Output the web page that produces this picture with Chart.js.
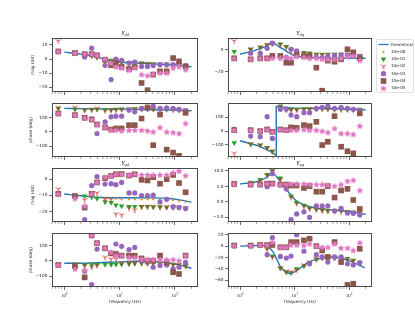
<!DOCTYPE html>
<html>
<head>
<meta charset="utf-8">
<script src="https://cdn.jsdelivr.net/npm/chart.js@4.4.1/dist/chart.umd.min.js"></script>
<style>
html, body { margin: 0; padding: 0; background: #fff; }
#wrap { position: relative; width: 415px; height: 324px; }
#wrap canvas { position: absolute; left: 0; top: 0; }
</style>
</head>
<body>
<div id="wrap"></div>
<script>
// measured frequencies (Hz), shared by every marker series
const freq = [0.78, 1.56, 2.34, 3.13, 3.91, 5.47, 7.03, 8.59, 10.9, 14.8, 18.8, 25.0, 32.0, 40.6, 53.9, 71.1, 93.0, 118.8, 156.3];
const seriesNames = ['theoretical', '10e-00', '10e-01', '10e-02', '10e-03', '10e-04', '10e-05'];
const xMajor = [1, 10, 100];
const xMinor = [0.6, 0.7, 0.8, 0.9, 2, 3, 4, 5, 6, 7, 8, 9, 20, 30, 40, 50, 60, 70, 80, 90, 200];

// Y_dd magnitude (dB)
const ddMagTheoryF = [1, 2, 3, 4, 5, 6, 8, 10, 20, 50, 100, 200];
const ddMagTheory = [4.9, 3.5, 2.4, 1.4, 0.2, -1.0, -1.9, -2.3, -2.8, -3.6, -4.4, -5.4];
const ddMag00 = [5.4, 3.8, 2.6, 1.6, 1.0, -0.8, -1.6, -2.0, -2.4, -2.8, -3.0, -3.0, -3.2, -3.4, -3.6, -3.8, -4.2, -4.4, -4.8];
const ddMag01 = [5.4, 4.5, 2.8, 2.3, 1.4, -1.0, -0.9, -1.6, -2.3, -2.8, -2.8, -2.8, -3.3, -3.4, -3.7, -3.8, -4.2, -4.4, -4.7];
const ddMag02 = [12.9, 4.8, 3.0, 2.6, 1.2, -0.6, -1.2, -1.8, -2.5, -3.0, -3.0, -3.0, -3.4, -3.5, -3.8, -4.0, -4.3, -4.5, -4.9];
const ddMag03 = [5.4, 4.2, 1.4, 7.7, 2.6, -4.4, -14.5, 0.0, -0.9, -2.8, -2.1, -5.2, -5.2, -4.6, -4.0, -4.0, -4.0, -3.7, -4.7];
const ddMag04 = [5.4, 4.2, 3.5, 3.5, 2.6, -0.5, -4.4, -2.8, -5.6, -7.0, -5.6, -16.9, -22.0, -11.0, -8.7, -8.7, 0.7, -1.6, -5.2];
const ddMag05 = [5.4, 4.2, 3.5, 3.5, 2.6, 0.0, -2.8, -5.6, -6.3, -8.0, -6.3, -11.0, -11.7, -10.5, -9.8, -9.8, -6.3, -5.2, -7.5];

// Y_dd phase (deg)
const ddPhTheoryF = [1, 3, 10, 30, 100, 200];
const ddPhTheory = [165, 162, 160, 157, 152, 148];
const ddPh00 = [165, 160, 158, 160, 160, 158, 158, 158, 160, 160, 160, 160, 160, 160, 158, 158, 156, 155, 152];
const ddPh01 = [165, 158, 155, 158, 158, 155, 155, 158, 160, 160, 162, 162, 163, 160, 160, 160, 158, 155, 153];
const ddPh02 = [170, 172, 153, 155, 165, 150, 152, 155, 158, 158, 160, 160, 162, 160, 158, 158, 155, 153, 150];
const ddPh03 = [129, 118, 99, 92, -12, 70, 106, 110, 110, 153, 141, 165, 165, 181, 165, 169, 165, 158, 150];
const ddPh04 = [129, 118, 99, 87, 52, 31, 16, 24, 24, 47, 47, 94, 172, -94, 122, -125, -146, -169, 134];
const ddPh05 = [129, 118, 99, 87, 52, 31, 12, 12, 7, 12, 12, 12, 7, 0, 31, 0, -5, -12, 59];

// Y_dq magnitude (dB)
const dqMagTheoryF = [1, 2, 3, 3.9, 5, 6.5, 8, 10, 15, 30, 100, 200];
const dqMagTheory = [-4.0, 0.0, 3.5, 6.6, 3.5, 0.0, -2.8, -5.2, -6.6, -7.3, -7.6, -7.7];
const dqMag00 = [-1.5, 0.5, 2.5, 4.6, 6.5, 5.5, 3.0, 0.0, -2.8, -3.0, -3.5, -4.2, -4.2, -4.2, -4.2, -4.2, -4.2, -4.5, -5.3];
const dqMag01 = [-1.5, 0.6, 2.5, 4.6, 6.2, 5.5, 3.1, 0.6, -3.0, -2.5, -3.0, -4.0, -4.0, -4.0, -4.0, -4.0, -4.0, -4.2, -5.2];
const dqMag02 = [8.3, 1.0, 2.8, 4.6, 5.5, 5.0, 2.5, -1.0, -3.5, -3.0, -3.5, -4.3, -4.5, -4.5, -4.3, -4.6, -4.5, -4.8, -5.5];
const dqMag03 = [-7.7, -3.0, -3.0, 1.5, 6.2, -6.2, -6.8, 0.6, -0.9, -6.0, -6.5, -6.5, -7.0, -6.0, -5.5, -4.6, -5.0, -5.5, -6.0];
const dqMag04 = [-7.7, -8.6, -7.7, -7.7, -5.5, -5.5, -11.7, -11.7, -4.6, -5.5, -5.5, -16.3, -37.5, -9.8, -10.8, -8.6, 0.6, -2.2, -7.7];
const dqMag05 = [-7.7, -8.6, -7.7, -7.7, -7.7, -7.7, -6.8, -7.7, -6.2, -6.8, -7.7, -7.7, -8.6, -8.6, -8.6, -7.7, -6.2, -5.5, -9.8];

// Y_dq phase (deg)
const dqPhTheoryF = [1, 2, 3, 4, 4.6, 4.6, 6, 10, 30, 100, 200];
const dqPhTheory = [-70, -102, -132, -158, -176, 178, 172, 166, 163, 158, 154];
const dqPh00 = [-84, -94, -101, -120, -145, 181, 157, 155, 160, 160, 162, 162, 162, 160, 160, 158, 156, 155, 157];
const dqPh01 = [-84, -94, -101, -120, -145, 181, 157, 157, 157, 160, 160, 162, 163, 162, 160, 160, 158, 157, 157];
const dqPh02 = [-161, -94, -101, -122, -148, 175, 152, 152, 152, 155, 158, 160, 160, 158, 156, 155, 155, 153, 152];
const dqPh03 = [15, -36, -40, 104, -53, 157, 160, 116, 104, 133, 133, 164, 171, 181, 164, 171, 164, 157, 150];
const dqPh04 = [7, 7, 0, 12, -5, 12, 7, 27, 24, 43, 36, 67, -101, -77, 108, -113, -145, -161, 128];
const dqPh05 = [7, 7, 0, 12, -5, 12, 7, 7, 7, 12, 7, 7, 0, -10, 19, -17, -17, -24, 36];

// Y_qd magnitude (dB)
const qdMagTheoryF = [1, 2, 4, 10, 40, 80, 120, 200];
const qdMagTheory = [-9.2, -10.3, -11.2, -11.5, -11.6, -12.0, -12.8, -14.2];
const qdMag00 = [-9.1, -10.2, -10.8, -11.2, -11.4, -11.8, -12.0, -12.0, -12.5, -12.5, -12.5, -12.5, -12.5, -12.5, -12.8, -13.0, -13.0, -13.5, -14.0];
const qdMag01 = [-9.1, -10.5, -10.5, -11.0, -12.0, -14.1, -14.5, -16.0, -16.6, -17.0, -17.0, -17.0, -17.0, -17.2, -17.2, -17.4, -17.2, -17.4, -18.0];
const qdMag02 = [-6.1, -10.0, -12.9, -8.5, -8.5, -12.5, -12.5, -21.6, -22.2, -18.0, -19.2, -17.0, -17.0, -17.0, -17.5, -17.0, -17.5, -17.5, -18.0];
const qdMag03 = [-9.1, -10.5, -25.0, -4.0, 1.6, -3.0, -2.8, -3.4, -2.0, -8.5, -8.5, -10.1, -10.1, -9.9, -14.1, -12.5, -17.0, -17.6, -18.2];
const qdMag04 = [-9.1, -10.5, -17.6, -9.1, -2.0, 0.6, 2.0, 3.0, 3.2, 2.2, 3.0, -0.4, -0.8, 1.2, -2.8, 0.0, 2.6, -2.4, -8.1];
const qdMag05 = [-9.1, -12.0, -16.6, -9.1, -2.0, 1.2, 2.0, 3.0, 3.2, 2.6, 3.0, 2.6, 2.6, 2.6, 2.6, 2.6, 4.0, 5.0, 2.2];

// Y_qd phase (deg)
const qdPhTheoryF = [1, 3, 10, 20, 40, 80, 140, 200];
const qdPhTheory = [-15, -13, -6, -2, -3, -14, -32, -48];
const qdPh00 = [-26, -20, -22, -20, -20, -20, -18, -15, -12, -10, -10, -10, -10, -12, -14, -16, -20, -24, -30];
const qdPh01 = [-26, -20, -26, -26, -24, -24, -24, -22, -20, -18, -16, -15, -15, -15, -18, -20, -22, -25, -30];
const qdPh02 = [-26, -22, -30, -41, -30, 24, 13, 13, -15, -15, -12, -10, -12, -15, -18, -20, -24, -26, -35];
const qdPh03 = [-26, -35, -67, -154, 78, 83, 50, 111, 96, 74, 89, 2, -9, -41, -30, -26, -52, -41, -9];
const qdPh04 = [-26, -35, -107, 167, 117, 83, 50, 46, 35, 35, 35, 17, 2, 2, 35, -9, -74, -85, 35];
const qdPh05 = [-26, -52, -60, 167, 117, 83, 57, 35, 35, 24, 24, 13, 9, 9, 9, 9, 9, 2, 35];

// Y_qq magnitude (dB)
const qqMagTheoryF = [1, 2, 3, 3.9, 5, 6, 8, 10, 15, 25, 50, 100, 200];
const qqMagTheory = [5.8, 6.5, 7.8, 9.3, 7.5, 5.5, 2.8, 0.8, -1.0, -2.0, -2.6, -3.2, -4.0];
const qqMag00 = [5.8, 6.3, 7.2, 8.8, 10.0, 7.7, 5.0, 2.0, -0.2, -1.1, -1.8, -2.3, -2.6, -2.7, -2.8, -2.8, -3.0, -3.2, -3.5];
const qqMag01 = [6.0, 6.3, 7.2, 8.8, 10.0, 7.7, 5.0, 1.9, -0.2, -1.1, -2.0, -2.3, -2.6, -2.8, -2.8, -2.8, -3.1, -3.3, -2.8];
const qqMag02 = [5.8, 6.0, 6.7, 8.5, 10.0, 7.2, 4.5, 1.4, -0.6, -1.5, -2.2, -2.6, -2.8, -3.0, -3.0, -3.2, -3.3, -3.5, -3.6];
const qqMag03 = [5.6, 5.6, 5.6, 4.9, 9.1, 5.6, 4.2, -5.7, -3.9, -3.2, -5.0, -1.3, -1.3, -1.3, -2.9, -2.1, -3.6, -3.7, -4.2];
const qqMag04 = [5.8, 5.6, 5.6, 5.9, 5.9, 5.6, 5.6, 5.3, 5.3, 4.5, 5.1, 3.3, 3.3, 5.1, 1.4, 3.7, 4.2, 0.6, -2.3];
const qqMag05 = [5.8, 5.6, 5.6, 5.9, 5.9, 5.6, 5.6, 5.8, 5.8, 5.8, 5.6, 5.6, 5.6, 5.4, 5.1, 5.6, 6.7, 7.0, 3.7];

// Y_qq phase (deg)
const qqPhTheoryF = [1, 2, 3, 4, 5.6, 8.5, 12, 18, 30, 48, 96, 192];
const qqPhTheory = [0, 1, 1, -10, -37, -48, -40, -28, -22, -19, -25, -38];
const qqPh00 = [1, 1, 1, -3.5, -17.5, -38.5, -45.5, -47, -40, -35, -30, -23, -21, -19, -20, -22, -22, -25, -29];
const qqPh01 = [1, 1, 1, -3.5, -17.5, -38.5, -45.5, -47, -40, -35, -30, -23, -21, -19, -21, -22, -22, -25, -29];
const qqPh02 = [1, 1, 2, -6, -20, -38, -44, -45, -42, -33, -28, -22, -20, -20, -20, -22, -24, -26, -30];
const qqPh03 = [1, 1, 2, -15, 15, -18, -21, -17.5, 20, -9, -31, -15, -19, -28, -19, -19, -31, -33, -29];
const qqPh04 = [1, 1, 2, 2, 2, -2, -2, 7, 7, 10, 13, 0, -7.6, -19, 7, -28, -68, -66, -4.7];
const qqPh05 = [1, 1, 2, 2, 7, -2, -2, 2, 2, 1, 4, 0, -2, -2, 4, -3.5, -3.5, -7.6, 6];

// marker images for the styles Chart.js does not have
function triDownImg(color) {
    const c = document.createElement('canvas');
    c.width = 8; c.height = 8;
    const g = c.getContext('2d');
    g.strokeStyle = color;
    g.lineWidth = 0.9;
    const r = 2.9;
    g.beginPath();
    g.moveTo(4, 4); g.lineTo(4, 4 + r);
    g.moveTo(4, 4); g.lineTo(4 - r * 0.866, 4 - r * 0.5);
    g.moveTo(4, 4); g.lineTo(4 + r * 0.866, 4 - r * 0.5);
    g.stroke();
    return c;
}

function starImg(color) {
    const c = document.createElement('canvas');
    c.width = 8; c.height = 8;
    const g = c.getContext('2d');
    g.fillStyle = color;
    g.beginPath();
    for (let i = 0; i < 10; i++) {
        const r = i % 2 ? 1.9 : 3.5;
        const a = -Math.PI / 2 + i * Math.PI / 5;
        const px = 4 + r * Math.cos(a), py = 4.2 + r * Math.sin(a);
        if (i === 0) g.moveTo(px, py); else g.lineTo(px, py);
    }
    g.closePath();
    g.fill();
    return c;
}

const markerStyles = [
    { color: '#ff7f0e', pointStyle: 'circle', radius: 1.1, rotation: 0 },
    { color: '#2ca02c', pointStyle: 'triangle', radius: 3.2, rotation: 180 },
    { color: '#d62728', pointStyle: triDownImg('#d62728'), radius: 3, rotation: 0 },
    { color: '#9467bd', pointStyle: 'circle', radius: 2.6, rotation: 0 },
    { color: '#8c564b', pointStyle: 'rect', radius: 4.0, rotation: 0 },
    { color: '#e377c2', pointStyle: starImg('#e377c2'), radius: 3.3, rotation: 0 }
];
const theoryColor = '#1f77b4';

const L = [52, 198], R = [228, 372];
const rows = [[38, 92], [103, 157], [168, 222], [233, 287]];
const YW = 24, XH = 14;

const panels = [
    { title: 'dd', col: L, row: 0, ylabel: 'mag (dB)', yMin: -23.3, yMax: 14.9, yTicks: [-20, -10, 0, 10], tf: ddMagTheoryF, tv: ddMagTheory, sets: [ddMag00, ddMag01, ddMag02, ddMag03, ddMag04, ddMag05] },
    { col: L, row: 1, ylabel: 'phase (deg)', yMin: -177, yMax: 203, yTicks: [-100, 0, 100], tf: ddPhTheoryF, tv: ddPhTheory, sets: [ddPh00, ddPh01, ddPh02, ddPh03, ddPh04, ddPh05] },
    { title: 'dq', col: R, row: 0, yMin: -38.7, yMax: 11, yTicks: [-20, 0], tf: dqMagTheoryF, tv: dqMagTheory, sets: [dqMag00, dqMag01, dqMag02, dqMag03, dqMag04, dqMag05], legend: true },
    { col: R, row: 1, yMin: -187, yMax: 203, yTicks: [-100, 0, 100], tf: dqPhTheoryF, tv: dqPhTheory, sets: [dqPh00, dqPh01, dqPh02, dqPh03, dqPh04, dqPh05], straight: true },
    { title: 'qd', col: L, row: 2, ylabel: 'mag (dB)', yMin: -26.5, yMax: 6.9, yTicks: [-20, -10, 0], tf: qdMagTheoryF, tv: qdMagTheory, sets: [qdMag00, qdMag01, qdMag02, qdMag03, qdMag04, qdMag05] },
    { col: L, row: 3, ylabel: 'phase (deg)', yMin: -170, yMax: 183, yTicks: [-100, 0, 100], tf: qdPhTheoryF, tv: qdPhTheory, sets: [qdPh00, qdPh01, qdPh02, qdPh03, qdPh04, qdPh05], xlabel: true },
    { title: 'qq', col: R, row: 2, yMin: -6.5, yMax: 10.95, yTicks: [-5, 0, 5, 10], decimals: 1, tf: qqMagTheoryF, tv: qqMagTheory, sets: [qqMag00, qqMag01, qqMag02, qqMag03, qqMag04, qqMag05] },
    { col: R, row: 3, yMin: -71.7, yMax: 23, yTicks: [-60, -40, -20, 0, 20], tf: qqPhTheoryF, tv: qqPhTheory, sets: [qqPh00, qqPh01, qqPh02, qqPh03, qqPh04, qqPh05], xlabel: true }
];

function fmtTick(v, decimals) {
    const s = Math.abs(v).toFixed(decimals || 0);
    return v < 0 ? '\u2212' + s : s;
}

// frame, minor ticks, titles, axis labels and legend
const decor = {
    id: 'decor',
    afterDraw(chart) {
        const p = chart.options.plugins.decor;
        const ctx = chart.ctx;
        const a = chart.chartArea;
        const xs = chart.scales.x;
        ctx.save();
        ctx.strokeStyle = '#4a4a4a';
        ctx.lineWidth = 1;
        ctx.strokeRect(Math.round(a.left) + 0.5, Math.round(a.top) + 0.5, Math.round(a.right - a.left) - 1, Math.round(a.bottom - a.top) - 1);

        ctx.lineWidth = 0.6;
        ctx.beginPath();
        xMinor.forEach(v => {
            const px = xs.getPixelForValue(v);
            ctx.moveTo(px, a.bottom);
            ctx.lineTo(px, a.bottom + 1.8);
        });
        ctx.stroke();

        ctx.fillStyle = '#222';
        if (p.xlabel) {
            xMajor.forEach((v, i) => {
                const px = xs.getPixelForValue(v);
                ctx.font = '4.8px "Liberation Serif"';
                const w1 = ctx.measureText('10').width;
                ctx.font = '3.4px "Liberation Serif"';
                const w2 = ctx.measureText(String(i)).width;
                const x0 = px - (w1 + w2) / 2;
                const by = a.bottom + 9.5;
                ctx.textAlign = 'left';
                ctx.textBaseline = 'alphabetic';
                ctx.font = '4.8px "Liberation Serif"';
                ctx.fillText('10', x0, by);
                ctx.font = '3.4px "Liberation Serif"';
                ctx.fillText(String(i), x0 + w1, by - 2);
            });
            ctx.font = '4.3px "DejaVu Sans"';
            ctx.textAlign = 'center';
            ctx.textBaseline = 'middle';
            ctx.fillText('frequency (Hz)', (a.left + a.right) / 2, a.bottom + 15);
        }

        if (p.title) {
            ctx.font = 'italic 6px "Liberation Serif"';
            const w1 = ctx.measureText('Y').width;
            ctx.font = 'italic 4.3px "Liberation Serif"';
            const w2 = ctx.measureText(p.title).width;
            const x0 = (a.left + a.right) / 2 - (w1 + w2) / 2;
            const by = a.top - 3.5;
            ctx.textAlign = 'left';
            ctx.textBaseline = 'alphabetic';
            ctx.font = 'italic 6px "Liberation Serif"';
            ctx.fillText('Y', x0, by);
            ctx.font = 'italic 4.3px "Liberation Serif"';
            ctx.fillText(p.title, x0 + w1, by + 1.3);
        }

        if (p.ylabel) {
            ctx.save();
            const lx = p.ylabel === 'mag (dB)' ? 32.5 : 30.5;
            ctx.translate(lx, (a.top + a.bottom) / 2);
            ctx.rotate(-Math.PI / 2);
            ctx.font = '4.3px "DejaVu Sans"';
            ctx.textAlign = 'center';
            ctx.textBaseline = 'middle';
            ctx.fillText(p.ylabel, 0, 0);
            ctx.restore();
        }

        if (p.legend) {
            const bx = 376, by = 39, bw = 37, bh = 53;
            ctx.fillStyle = 'rgba(255,255,255,0.85)';
            ctx.strokeStyle = '#cccccc';
            ctx.lineWidth = 0.6;
            ctx.beginPath();
            ctx.roundRect(bx + 0.5, by + 0.5, bw, bh, 1.5);
            ctx.fill();
            ctx.stroke();
            const sets = chart.data.datasets;
            seriesNames.forEach((name, i) => {
                const y = by + 5.5 + i * 7.3;
                const ds = sets.find(d => d.label === name);
                if (i === 0) {
                    ctx.strokeStyle = theoryColor;
                    ctx.lineWidth = 1.3;
                    ctx.beginPath();
                    ctx.moveTo(bx + 2.5, y);
                    ctx.lineTo(bx + 12.5, y);
                    ctx.stroke();
                } else {
                    ctx.fillStyle = ds.backgroundColor;
                    Chart.helpers.drawPoint(ctx, {
                        pointStyle: ds.pointStyle,
                        rotation: ds.pointRotation,
                        radius: ds.pointRadius,
                        borderWidth: 0
                    }, bx + 7.5, y);
                }
                ctx.fillStyle = '#222';
                ctx.font = '4.1px "DejaVu Sans"';
                ctx.textAlign = 'left';
                ctx.textBaseline = 'middle';
                ctx.fillText(name, bx + 15, y);
            });
        }
        ctx.restore();
    }
};

const wrap = document.getElementById('wrap');

panels.forEach(p => {
    const canvas = document.createElement('canvas');
    canvas.width = 415;
    canvas.height = 324;
    wrap.appendChild(canvas);
    const box = { l: p.col[0], r: p.col[1], t: rows[p.row][0], b: rows[p.row][1] };

    const datasets = [{
        label: seriesNames[0],
        data: p.tf.map((f, i) => ({ x: f, y: p.tv[i] })),
        showLine: true,
        borderColor: theoryColor,
        borderWidth: 1.4,
        pointRadius: 0,
        cubicInterpolationMode: p.straight ? 'default' : 'monotone',
        order: 6
    }];
    p.sets.forEach((vals, k) => {
        const m = markerStyles[k];
        datasets.push({
            label: seriesNames[k + 1],
            data: freq.map((f, i) => ({ x: f, y: vals[i] })).filter(d => d.y !== null),
            showLine: false,
            pointStyle: m.pointStyle,
            pointRotation: m.rotation,
            pointRadius: m.radius,
            pointBackgroundColor: m.color,
            backgroundColor: m.color,
            pointBorderWidth: 0,
            order: 5 - k
        });
    });

    new Chart(canvas, {
        type: 'scatter',
        data: { datasets: datasets },
        options: {
            responsive: false,
            animation: false,
            events: [],
            layout: { padding: { left: box.l - YW, top: box.t, right: 415 - box.r, bottom: 324 - box.b - XH } },
            plugins: {
                legend: { display: false },
                tooltip: { enabled: false },
                decor: { title: p.title, ylabel: p.ylabel, xlabel: p.xlabel, legend: p.legend }
            },
            scales: {
                x: {
                    type: 'logarithmic',
                    min: 0.6,
                    max: 262,
                    afterFit: s => { s.height = XH; },
                    afterBuildTicks: s => { s.ticks = xMajor.map(v => ({ value: v })); },
                    grid: { drawOnChartArea: false, tickLength: 3, tickColor: '#444', tickWidth: 0.8 },
                    border: { display: false },
                    ticks: { display: false }
                },
                y: {
                    min: p.yMin,
                    max: p.yMax,
                    afterFit: s => { s.width = YW; },
                    afterBuildTicks: s => { s.ticks = p.yTicks.map(v => ({ value: v })); },
                    grid: { drawOnChartArea: false, tickLength: 3, tickColor: '#444', tickWidth: 0.8 },
                    border: { display: false },
                    ticks: {
                        font: { family: 'DejaVu Sans', size: 4.3 },
                        color: '#222',
                        padding: 1.5,
                        autoSkip: false,
                        callback: v => fmtTick(v, p.decimals)
                    }
                }
            }
        },
        plugins: [decor]
    });
});
</script>
</body>
</html>
